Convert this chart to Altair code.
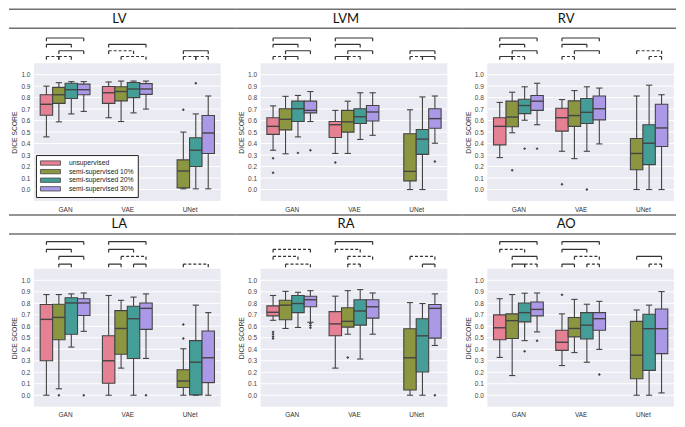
import json
import altair as alt
import pandas as pd

# ---------------- data ----------------
PANELS = ["LV", "LVM", "RV", "LA", "RA", "AO"]
MODELS = ["GAN", "VAE", "UNet"]
GROUPS = ["unsupervised", "semi-supervised 10%", "semi-supervised 20%", "semi-supervised 30%"]
COLORS = ["#e68193", "#8c9540", "#449e97", "#ab99e7"]
TICKS = [0.0, 0.1, 0.2, 0.3, 0.4, 0.5, 0.6, 0.7, 0.8, 0.9, 1.0]

# box order: GAN x4, VAE x4, UNet x3 (no unsupervised UNet)
BOX_MODEL = ["GAN", "GAN", "GAN", "GAN", "VAE", "VAE", "VAE", "VAE", "UNet", "UNet", "UNet"]
BOX_GROUP = [0, 1, 2, 3, 0, 1, 2, 3, 1, 2, 3]

LV_LOW = [0.458, 0.589, 0.658, 0.680, 0.625, 0.592, 0.667, 0.700, 0.006, 0.006, 0.006]
LV_Q1 = [0.647, 0.750, 0.792, 0.825, 0.750, 0.772, 0.800, 0.828, 0.014, 0.200, 0.314]
LV_MED = [0.742, 0.825, 0.869, 0.869, 0.842, 0.853, 0.875, 0.875, 0.161, 0.342, 0.492]
LV_Q3 = [0.825, 0.889, 0.925, 0.917, 0.897, 0.894, 0.931, 0.922, 0.258, 0.450, 0.644]
LV_HIGH = [0.900, 0.930, 0.939, 0.939, 0.936, 0.944, 0.944, 0.944, 0.500, 0.658, 0.814]
LV_OUT = [("UNet", 1, 0.694), ("UNet", 2, 0.925)]

LVM_LOW = [0.342, 0.311, 0.458, 0.592, 0.314, 0.314, 0.436, 0.472, 0.0, 0.0, 0.403]
LVM_Q1 = [0.480, 0.519, 0.592, 0.667, 0.453, 0.500, 0.575, 0.597, 0.075, 0.306, 0.533]
LVM_MED = [0.550, 0.611, 0.703, 0.689, 0.564, 0.589, 0.633, 0.675, 0.158, 0.439, 0.617]
LVM_Q3 = [0.625, 0.703, 0.769, 0.769, 0.592, 0.689, 0.703, 0.731, 0.486, 0.522, 0.703]
LVM_HIGH = [0.728, 0.811, 0.819, 0.853, 0.689, 0.769, 0.842, 0.842, 0.694, 0.806, 0.814]
LVM_OUT = [("GAN", 0, 0.272), ("GAN", 0, 0.147), ("GAN", 2, 0.319), ("GAN", 3, 0.342),
           ("VAE", 0, 0.236), ("UNet", 3, 0.244)]

RV_LOW = [0.278, 0.494, 0.603, 0.564, 0.333, 0.269, 0.333, 0.397, 0.0, 0.0, 0.0]
RV_Q1 = [0.389, 0.547, 0.661, 0.689, 0.508, 0.550, 0.575, 0.606, 0.172, 0.217, 0.375]
RV_MED = [0.550, 0.631, 0.731, 0.769, 0.625, 0.644, 0.672, 0.703, 0.314, 0.403, 0.536]
RV_Q3 = [0.625, 0.769, 0.786, 0.819, 0.708, 0.772, 0.792, 0.814, 0.444, 0.564, 0.742]
RV_HIGH = [0.758, 0.847, 0.894, 0.925, 0.783, 0.861, 0.894, 0.883, 0.814, 0.908, 0.825]
RV_OUT = [("GAN", 1, 0.167), ("GAN", 2, 0.356), ("GAN", 3, 0.356), ("VAE", 0, 0.047), ("VAE", 2, 0.0)]

LA_LOW = [0.0, 0.056, 0.419, 0.556, 0.0, 0.236, 0.0, 0.320, 0.0, 0.0, 0.0]
LA_Q1 = [0.300, 0.483, 0.531, 0.694, 0.104, 0.357, 0.320, 0.573, 0.067, 0.003, 0.110]
LA_MED = [0.660, 0.677, 0.803, 0.803, 0.300, 0.581, 0.666, 0.756, 0.124, 0.287, 0.326]
LA_Q3 = [0.789, 0.792, 0.848, 0.840, 0.517, 0.736, 0.775, 0.803, 0.222, 0.475, 0.559]
LA_HIGH = [0.876, 0.876, 0.882, 0.890, 0.868, 0.826, 0.854, 0.882, 0.404, 0.784, 0.719]
LA_OUT = [("GAN", 1, 0.0), ("GAN", 3, 0.0), ("VAE", 3, 0.0), ("UNet", 1, 0.615), ("UNet", 1, 0.494)]

RA_LOW = [0.652, 0.581, 0.590, 0.635, 0.236, 0.531, 0.315, 0.531, 0.0, 0.0, 0.433]
RA_Q1 = [0.691, 0.657, 0.719, 0.770, 0.517, 0.593, 0.610, 0.671, 0.045, 0.202, 0.497]
RA_MED = [0.722, 0.784, 0.798, 0.831, 0.621, 0.643, 0.733, 0.770, 0.326, 0.517, 0.756]
RA_Q3 = [0.778, 0.826, 0.868, 0.862, 0.728, 0.761, 0.831, 0.831, 0.579, 0.666, 0.789]
RA_HIGH = [0.868, 0.904, 0.896, 0.910, 0.862, 0.910, 0.919, 0.890, 0.806, 0.798, 0.882]
RA_OUT = [("GAN", 0, 0.550), ("GAN", 0, 0.530), ("GAN", 0, 0.510), ("GAN", 0, 0.494),
          ("GAN", 3, 0.624), ("GAN", 3, 0.607), ("GAN", 3, 0.587), ("VAE", 1, 0.329), ("UNet", 3, 0.0)]

AO_LOW = [0.329, 0.171, 0.475, 0.551, 0.258, 0.371, 0.287, 0.399, 0.0, 0.0, 0.020]
AO_Q1 = [0.483, 0.494, 0.638, 0.691, 0.390, 0.508, 0.489, 0.565, 0.143, 0.216, 0.362]
AO_MED = [0.587, 0.649, 0.719, 0.747, 0.461, 0.581, 0.610, 0.666, 0.348, 0.579, 0.579]
AO_Q3 = [0.699, 0.708, 0.803, 0.812, 0.565, 0.677, 0.719, 0.719, 0.643, 0.705, 0.750]
AO_HIGH = [0.840, 0.876, 0.888, 0.890, 0.708, 0.834, 0.792, 0.817, 0.742, 0.784, 0.902]
AO_OUT = [("GAN", 2, 0.382), ("GAN", 3, 0.475), ("VAE", 0, 0.874), ("VAE", 3, 0.180)]

# significance brackets: (model, group a, group b, level index, "s" solid / "d" dashed)
LV_BRK = [("GAN", 0, 3, 3, "s"), ("GAN", 0, 2, 2, "s"), ("GAN", 1, 3, 1, "s"), ("GAN", 0, 1, 0, "d"),
          ("GAN", 1, 2, 0, "d"), ("VAE", 0, 3, 2, "s"), ("VAE", 0, 2, 1, "d"), ("VAE", 1, 3, 0, "d"),
          ("UNet", 1, 3, 1, "s"), ("UNet", 1, 2, 0, "d"), ("UNet", 2, 3, 0, "d")]
LVM_BRK = [("GAN", 0, 3, 3, "s"), ("GAN", 0, 2, 2, "s"), ("GAN", 1, 3, 1, "s"), ("GAN", 0, 1, 0, "d"),
           ("GAN", 1, 2, 0, "s"), ("VAE", 0, 3, 3, "s"), ("VAE", 0, 2, 2, "s"), ("VAE", 1, 3, 1, "s"),
           ("VAE", 0, 1, 0, "s"), ("VAE", 1, 2, 0, "d"), ("UNet", 1, 3, 1, "s"), ("UNet", 1, 2, 0, "d"),
           ("UNet", 2, 3, 0, "s")]
RV_BRK = [("GAN", 0, 3, 3, "s"), ("GAN", 0, 2, 2, "s"), ("GAN", 1, 3, 1, "s"), ("GAN", 0, 1, 0, "s"),
          ("GAN", 1, 2, 0, "d"), ("VAE", 0, 3, 3, "s"), ("VAE", 0, 2, 2, "s"), ("VAE", 1, 3, 1, "s"),
          ("VAE", 0, 1, 0, "d"), ("UNet", 1, 3, 1, "d"), ("UNet", 2, 3, 0, "d")]
LA_BRK = [("GAN", 0, 3, 3, "s"), ("GAN", 0, 2, 2, "s"), ("GAN", 1, 3, 1, "s"), ("GAN", 1, 2, 0, "s"),
          ("VAE", 0, 3, 3, "s"), ("VAE", 0, 2, 2, "s"), ("VAE", 1, 3, 1, "d"), ("VAE", 0, 1, 0, "s"),
          ("VAE", 2, 3, 0, "s"), ("UNet", 1, 3, 0, "d")]
RA_BRK = [("GAN", 0, 3, 2, "d"), ("GAN", 0, 2, 1, "d"), ("GAN", 1, 3, 0, "d"), ("VAE", 0, 3, 3, "s"),
          ("VAE", 0, 2, 2, "d"), ("VAE", 1, 3, 1, "d"), ("VAE", 1, 2, 0, "d"), ("UNet", 1, 3, 1, "d"),
          ("UNet", 2, 3, 0, "s")]
AO_BRK = [("GAN", 0, 3, 3, "s"), ("GAN", 0, 2, 2, "d"), ("GAN", 1, 3, 1, "s"), ("GAN", 1, 2, 0, "s"),
          ("GAN", 2, 3, 0, "d"), ("VAE", 0, 3, 3, "s"), ("VAE", 0, 2, 2, "s"), ("VAE", 1, 3, 1, "d"),
          ("VAE", 0, 1, 0, "s"), ("VAE", 2, 3, 0, "d"), ("UNet", 1, 3, 1, "s"), ("UNet", 2, 3, 0, "d")]

LEVELS_TOP = [1.158, 1.208, 1.264, 1.319]
LEVELS_BOTTOM = [1.141, 1.208, 1.270, 1.337]

# ---------------- styling / layout ----------------
W, H = 187, 168
SX, SY = 40, 38
EXT_L = 25
Y0, Y1 = -0.1, 1.36
PX = H / (Y1 - Y0)
DARK = "#444444"
FONT = "Liberation Sans"
MEXPR = json.dumps(MODELS)

yscale = alt.Scale(domain=[Y0, Y1], nice=False, zero=False)
xscale = alt.Scale(domain=[-0.5, 2.5], nice=False, zero=False)
yaxis = alt.Axis(values=TICKS, format=".1f", title="DICE SCORE", titleFont=FONT, titleFontSize=6.8,
                 titleFontWeight="normal", titleColor="#333333", titleY=(Y1 - 0.5) * PX,
                 titlePadding=3, labelFont=FONT, labelFontSize=6.5, labelColor="#444444",
                 labelPadding=4, domain=False, ticks=False, grid=False, minExtent=0)
xaxis = alt.Axis(values=[0, 1, 2], labelExpr=f"{MEXPR}[datum.value]", title=None, labelFont=FONT,
                 labelFontSize=6.5, labelColor="#333333", labelPadding=5, domain=False,
                 ticks=False, grid=False, minExtent=0)


def X(f):
    return alt.X(f, type="quantitative", scale=xscale, axis=xaxis)


def Y(f):
    return alt.Y(f, type="quantitative", scale=yscale, axis=yaxis)


def make_panel(idx, name, low, q1, med, q3, high, outs, brks):
    col = idx % 3
    levels = LEVELS_TOP if idx < 3 else LEVELS_BOTTOM
    ext_r = W + (SX - EXT_L if col < 2 else 2)
    hdr = pd.DataFrame({"name": [name]})

    boxes = pd.DataFrame({"model": BOX_MODEL, "gi": BOX_GROUP,
                          "group": [GROUPS[g] for g in BOX_GROUP],
                          "low": low, "q1": q1, "med": med, "q3": q3, "high": high})
    pos_expr = f"indexof({MEXPR}, datum.model) + (datum.gi - 1.5) * 0.2"
    bbase = alt.Chart(boxes).transform_calculate(pos=pos_expr).transform_calculate(
        left="datum.pos - 0.1", right="datum.pos + 0.1",
        capl="datum.pos - 0.05", capr="datum.pos + 0.05")

    bg = alt.Chart(hdr).mark_rect(color="#eaeaf2").encode(
        x=alt.value(0), x2=alt.value(W),
        y=alt.YDatum(-0.1, scale=yscale, axis=yaxis), y2=alt.Y2Datum(1.10))
    grid = alt.Chart(pd.DataFrame({"t": TICKS})).mark_rule(color="white", strokeWidth=1).encode(
        y=Y("t"), x=alt.value(0), x2=alt.value(W))

    whisk = bbase.mark_rule(color=DARK, strokeWidth=1.1).encode(x=X("pos"), y=Y("low"), y2="high")
    cap_lo = bbase.mark_rule(color=DARK, strokeWidth=1.1).encode(x=X("capl"), x2="capr", y=Y("low"))
    cap_hi = bbase.mark_rule(color=DARK, strokeWidth=1.1).encode(x=X("capl"), x2="capr", y=Y("high"))

    if idx == 0:
        legend = alt.Legend(orient="none", legendX=2, legendY=(Y1 - 0.30) * PX, title=None,
                            fillColor="white", strokeColor="#222222", padding=4,
                            labelFont=FONT, labelFontSize=6.8, labelColor="#222222",
                            symbolType="M-2.86,-0.62H2.86V0.62H-2.86Z", symbolSize=49,
                            symbolOffset=6.5, symbolStrokeColor=DARK, symbolStrokeWidth=0.8,
                            rowPadding=0.6, labelOffset=14.5, cornerRadius=0)
    else:
        legend = None
    box = bbase.mark_rect(stroke=DARK, strokeWidth=1.1).encode(
        x=X("left"), x2="right", y=Y("q1"), y2="q3",
        color=alt.Color("group:N", scale=alt.Scale(domain=GROUPS, range=COLORS), legend=legend))
    median = bbase.mark_rule(color=DARK, strokeWidth=1.4).encode(x=X("left"), x2="right", y=Y("med"))

    odf = pd.DataFrame({"model": [o[0] for o in outs], "gi": [o[1] for o in outs],
                        "v": [o[2] for o in outs]})
    outl = alt.Chart(odf).transform_calculate(pos=pos_expr).mark_point(
        shape="diamond", filled=True, size=9, color=DARK, opacity=1).encode(x=X("pos"), y=Y("v"))

    bdf = pd.DataFrame({"model": [b[0] for b in brks], "ga": [b[1] for b in brks],
                        "gb": [b[2] for b in brks], "lv": [levels[b[3]] for b in brks],
                        "sig": [b[4] for b in brks]})
    brbase = alt.Chart(bdf).transform_calculate(
        p1=f"indexof({MEXPR}, datum.model) + (datum.ga - 1.5) * 0.2",
        p2=f"indexof({MEXPR}, datum.model) + (datum.gb - 1.5) * 0.2",
        lvb="datum.lv - 0.028")
    dash = alt.StrokeDash("sig:N", scale=alt.Scale(domain=["s", "d"], range=[[1, 0], [3, 2]]), legend=None)
    br_h = brbase.mark_rule(color="#333333", strokeWidth=1.2).encode(x=X("p1"), x2="p2", y=Y("lv"), strokeDash=dash)
    br_l = brbase.mark_rule(color="#333333", strokeWidth=1.2).encode(x=X("p1"), y=Y("lv"), y2="lvb")
    br_r = brbase.mark_rule(color="#333333", strokeWidth=1.2).encode(x=X("p2"), y=Y("lv"), y2="lvb")

    line1 = alt.Chart(hdr).mark_rule(color="#707070", strokeWidth=1.6).encode(
        x=alt.value(-EXT_L), x2=alt.value(ext_r), y=alt.value(-24))
    line2 = alt.Chart(hdr).mark_rule(color="#707070", strokeWidth=1.6).encode(
        x=alt.value(-EXT_L), x2=alt.value(ext_r), y=alt.value(-5))
    title = alt.Chart(hdr).mark_text(font="Lato", fontSize=13, fontWeight="normal", color="#111111",
                                     baseline="middle").encode(
        x=alt.value((ext_r - EXT_L) / 2 - 3), y=alt.value(-14.5), text="name:N")

    return alt.layer(bg, grid, whisk, cap_lo, cap_hi, box, median, outl, br_h, br_l, br_r,
                     line1, line2, title).properties(width=W, height=H)


STATS = [
    (LV_LOW, LV_Q1, LV_MED, LV_Q3, LV_HIGH, LV_OUT, LV_BRK),
    (LVM_LOW, LVM_Q1, LVM_MED, LVM_Q3, LVM_HIGH, LVM_OUT, LVM_BRK),
    (RV_LOW, RV_Q1, RV_MED, RV_Q3, RV_HIGH, RV_OUT, RV_BRK),
    (LA_LOW, LA_Q1, LA_MED, LA_Q3, LA_HIGH, LA_OUT, LA_BRK),
    (RA_LOW, RA_Q1, RA_MED, RA_Q3, RA_HIGH, RA_OUT, RA_BRK),
    (AO_LOW, AO_Q1, AO_MED, AO_Q3, AO_HIGH, AO_OUT, AO_BRK),
]

panels = [make_panel(i, PANELS[i], *STATS[i]) for i in range(6)]

chart = alt.concat(*panels, columns=3, spacing={"row": SY, "column": SX}, bounds="flush",
                   padding=0).resolve_scale(
    color="independent", strokeDash="independent").resolve_legend(
    color="independent", strokeDash="independent").configure_view(stroke=None)

chart.save("out.html", embed_options={"renderer": "svg", "actions": False})
